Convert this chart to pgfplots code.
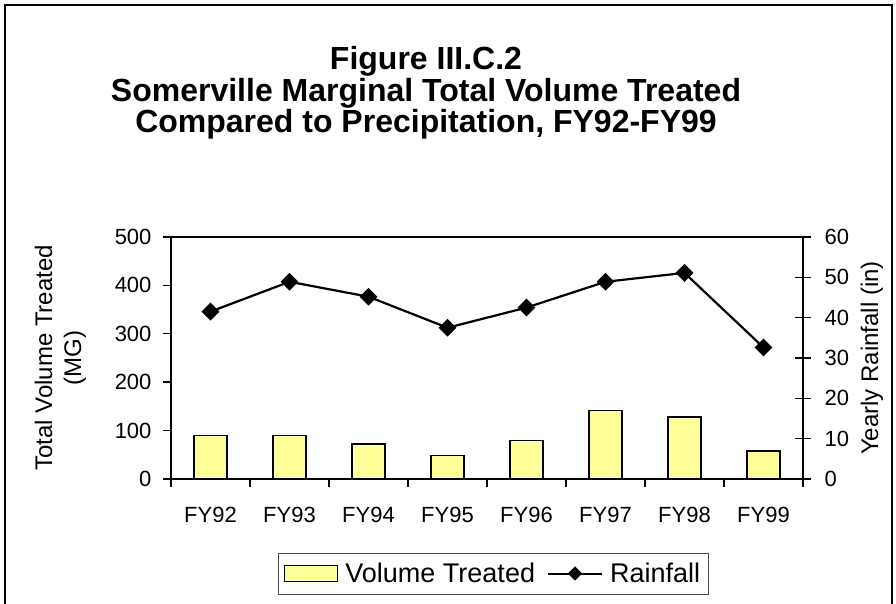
\documentclass[border=0pt]{standalone}
\usepackage{fontspec}
\setmainfont{Liberation Sans}
\usepackage{pgfplots}
\pgfplotsset{compat=1.18}
\definecolor{barfill}{RGB}{255,255,153}

\pgfplotstableread{
x vol rain
0 90 41.5
1 90 48.9
2 72 45.2
3 49 37.5
4 80 42.5
5 142 48.9
6 128 51.1
7 58 32.6
}\datatable

\begin{document}
\begin{tikzpicture}[x=1pt,y=1pt]
\useasboundingbox (-171,-125) rectangle (725,479);
\draw[line width=1.5pt] (-166,-125) -- (-166,474) -- (721,474) -- (721,-125);
\node[font=\fontsize{32}{31.5}\selectfont\bfseries, align=center] at (255,386)
  {Figure III.C.2\\Somerville Marginal Total Volume Treated\\Compared to Precipitation, FY92-FY99};

\begin{axis}[
  at={(0,0)}, anchor=south west,
  scale only axis, width=632pt, height=242pt,
  xmin=-0.5, xmax=7.5, ymin=0, ymax=500,
  ytick={0,100,...,500},
  xtick={-0.5,0.5,...,7.5},
  xticklabels={},
  xtick pos=bottom, ytick pos=left,
  tick style={black, line width=1.4pt},
  tick align=outside, major tick length=8pt,
  extra x ticks={0,...,7},
  extra x tick labels={FY92,FY93,FY94,FY95,FY96,FY97,FY98,FY99},
  extra x tick style={tick align=inside, major tick length=5pt,
    xticklabel style={yshift=-25pt}},
  axis line style={line width=2pt},
  ticklabel style={font=\fontsize{22}{24}\selectfont},
  yticklabel style={xshift=-8pt},
  /pgf/number format/assume math mode=true,
  ylabel={Total Volume Treated\\(MG)},
  ylabel style={at={(axis description cs:-0.175,0.5)}, anchor=center, align=center,
    font=\fontsize{24}{29}\selectfont},
]
\addplot[ybar, bar width=33pt, fill=barfill, draw=black, line width=1.5pt]
  table[x=x, y=vol] {\datatable};
\end{axis}

\begin{axis}[
  at={(0,0)}, anchor=south west,
  scale only axis, width=632pt, height=242pt,
  xmin=-0.5, xmax=7.5, ymin=0, ymax=60,
  axis x line=none, axis y line*=right,
  ytick={0,10,...,60},
  tick align=center, major tick length=16pt,
  y tick style={black, line width=1.4pt},
  axis line style={line width=2pt},
  ticklabel style={font=\fontsize{22}{24}\selectfont},
  yticklabel style={xshift=10pt},
  /pgf/number format/assume math mode=true,
  ylabel={Yearly Rainfall (in)},
  ylabel style={at={(axis description cs:1.109,0.5)}, anchor=center,
    font=\fontsize{24}{29}\selectfont},
  legend columns=2,
  legend style={at={(axis description cs:0.5095,-0.3905)}, anchor=center,
    draw=black!70, line width=0.8pt, font=\fontsize{27}{28}\selectfont,
    inner xsep=6pt, inner ysep=8pt,
    /tikz/every odd column/.append style={column sep=5pt},
    /tikz/every even column/.append style={column sep=10pt}},
]
\addlegendimage{legend image code/.code={
  \draw[fill=barfill, draw=black, line width=1.5pt] (0pt,-8pt) rectangle (53pt,8pt);}}
\addlegendentry{Volume Treated}
\addlegendimage{legend image code/.code={
  \draw[black, line width=2pt] (0pt,0pt) -- (54pt,0pt);
  \path[black, fill=black] plot[mark=square*, mark size=4.6pt, mark options={rotate=45}]
    coordinates {(27pt,0pt)};}}
\addlegendentry{Rainfall}
\addplot[black, line width=2.2pt, mark=square*, mark size=5.2pt,
  mark options={rotate=45, solid}, forget plot]
  table[x=x, y=rain] {\datatable};
\end{axis}
\end{tikzpicture}
\end{document}
